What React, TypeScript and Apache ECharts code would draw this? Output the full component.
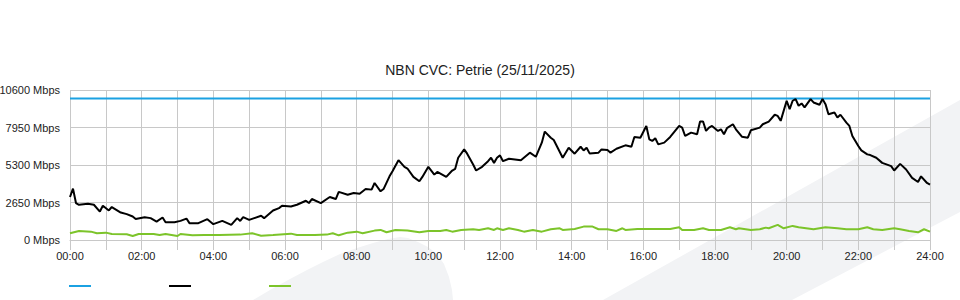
import React, { useEffect, useRef } from 'react';
import * as echarts from 'echarts';

const TITLE = 'NBN CVC: Petrie (25/11/2025)';
const Y_MAX = 10600;
const Y_STEP = 2650;
const X_MAX = 1440; // minutes in the day
const xTickLabels = ['00:00', '02:00', '04:00', '06:00', '08:00', '10:00', '12:00', '14:00', '16:00', '18:00', '20:00', '22:00', '24:00'];
const seriesNames = ['Capacity', 'Download', 'Upload'];

const capacityTimes = [0, 1440];
const capacityValues = [10000, 10000];

const downloadTimes = [
  0, 5, 10, 15, 30, 40, 50, 55, 65, 70, 85, 95, 105, 110, 125, 135, 145, 155, 160, 175,
  185, 195, 200, 215, 230, 240, 255, 270, 280, 285, 290, 300, 320, 325, 340, 350, 355, 370, 380, 395,
  400, 405, 420, 435, 445, 450, 465, 475, 485, 495, 505, 510, 520, 525, 535, 540, 550, 560, 565, 575,
  585, 590, 600, 610, 615, 630, 640, 645, 650, 660, 665, 675, 680, 690, 700, 705, 710, 715, 720, 725,
  735, 755, 770, 780, 790, 795, 805, 810, 825, 835, 845, 855, 860, 865, 870, 885, 890, 900, 905, 915,
  930, 940, 945, 955, 965, 970, 975, 980, 985, 995, 1005, 1020, 1025, 1030, 1040, 1050, 1055, 1060, 1065, 1070,
  1075, 1085, 1090, 1095, 1100, 1110, 1115, 1125, 1135, 1140, 1155, 1160, 1170, 1180, 1185, 1190, 1200, 1205, 1210, 1215,
  1220, 1225, 1230, 1240, 1245, 1255, 1260, 1265, 1270, 1280, 1285, 1290, 1300, 1305, 1310, 1320, 1325, 1335, 1340, 1350,
  1360, 1375, 1380, 1390, 1400, 1410, 1420, 1425, 1435, 1440,
];
const downloadValues = [
  3040, 3630, 2610, 2490, 2560, 2490, 2010, 2420, 2090, 2330, 1940, 1830, 1660, 1490, 1615, 1545, 1300, 1590, 1260, 1260,
  1350, 1515, 1190, 1190, 1470, 1120, 1350, 1070, 1545, 1350, 1615, 1420, 1710, 1545, 2085, 2255, 2420, 2370, 2490, 2775,
  2610, 2895, 2610, 3040, 2895, 3400, 3200, 3320, 3270, 3600, 3560, 4030, 3440, 3600, 4500, 4860, 5640, 5170, 5050, 4460,
  4150, 4460, 5170, 4620, 4810, 4460, 4910, 5030, 5810, 6400, 6100, 5335, 4910, 5170, 5570, 5810, 5450, 5810, 5980, 5570,
  5740, 5640, 6170, 5880, 6880, 7660, 7230, 7070, 5810, 6520, 6100, 6590, 6330, 6520, 6120, 6170, 6400, 6355, 6170, 6450,
  6690, 6590, 7280, 7230, 8060, 7110, 7000, 7190, 6760, 6880, 7280, 8060, 7940, 7350, 7590, 7470, 8370, 8370, 7710, 7940,
  8060, 7710, 7825, 7470, 7900, 8180, 7825, 7300, 7230, 7750, 7940, 8180, 8370, 8850, 8770, 8420, 9840, 9250, 9840, 9960,
  9485, 9650, 9370, 9960, 9720, 9560, 9960, 9600, 8890, 9010, 8660, 8850, 8300, 8060, 7350, 6640, 6330, 6050, 6000, 5810,
  5450, 5220, 4910, 5380, 4980, 4390, 4100, 4500, 4030, 3910,
];

const uploadTimes = [
  0, 15, 35, 45, 60, 70, 95, 105, 115, 140, 150, 160, 180, 185, 205, 225, 250, 285, 305, 320,
  340, 370, 380, 410, 430, 440, 450, 465, 480, 490, 510, 520, 530, 545, 565, 585, 600, 620, 630, 640,
  655, 675, 685, 700, 710, 715, 725, 735, 750, 760, 775, 790, 805, 820, 825, 845, 860, 875, 885, 900,
  915, 925, 930, 950, 980, 1005, 1020, 1025, 1045, 1060, 1070, 1090, 1105, 1115, 1120, 1140, 1155, 1165, 1170, 1185,
  1195, 1210, 1220, 1245, 1255, 1265, 1285, 1300, 1320, 1335, 1345, 1360, 1380, 1390, 1405, 1420, 1430, 1440,
];
const uploadValues = [
  474, 640, 590, 474, 520, 427, 405, 285, 427, 427, 355, 427, 285, 427, 330, 355, 355, 380, 474, 306,
  355, 450, 355, 355, 380, 474, 330, 520, 590, 474, 664, 711, 545, 711, 664, 545, 640, 640, 711, 590,
  711, 760, 711, 830, 711, 830, 711, 830, 711, 590, 711, 590, 760, 830, 711, 780, 946, 946, 760, 760,
  640, 830, 711, 780, 780, 780, 900, 711, 711, 830, 711, 711, 900, 760, 830, 711, 760, 875, 830, 1067,
  830, 996, 900, 760, 830, 900, 830, 760, 760, 900, 760, 711, 830, 760, 640, 545, 760, 590,
];

const GRID_COLOR = '#c8c8c8';
const FONT = "'Liberation Sans', Arial, Helvetica, sans-serif";

function pairs(times: number[], values: number[]) {
  return times.map((t, i) => [t, values[i]]);
}

export default function App() {
  const ref = useRef<HTMLDivElement>(null);

  useEffect(() => {
    if (!ref.current) return;
    const chart = echarts.init(ref.current, undefined, { renderer: 'svg' });
    const bg = '#f2f3f5';
    chart.setOption({
      animation: false,
      backgroundColor: '#ffffff',
      textStyle: { fontFamily: FONT },
      title: {
        text: TITLE,
        left: 'center',
        top: 58,
        textStyle: { fontSize: 14, fontWeight: 'normal', color: '#222', fontFamily: FONT },
      },
      graphic: [
        {
          type: 'polygon',
          z: -10,
          silent: true,
          x: 0,
          y: 0,
          shape: {
            points: [
              [253, 300], [270, 290], [290, 279], [307, 270], [323, 262], [340, 254], [357, 248], [373, 243],
              [388, 239], [400, 237], [408, 238], [418, 242], [428, 247], [437, 254], [444, 264], [449, 277],
              [452, 290], [453, 300],
            ],
          },
          style: { fill: bg },
        },
        {
          type: 'polygon',
          z: -10,
          silent: true,
          x: 0,
          y: 0,
          shape: {
            points: [[603, 300], [960, 100], [960, 212], [792, 300]],
          },
          style: { fill: bg },
        },
      ],
      legend: {
        data: seriesNames,
        left: 64,
        top: 280,
        icon: 'rect',
        itemWidth: 22,
        itemHeight: 2,
        itemGap: 78,
        selectedMode: false,
        formatter: () => '',
      },
      grid: { left: 70, right: 30, top: 90, bottom: 60, containLabel: false, outerBoundsMode: 'none' },
      xAxis: {
        type: 'value',
        min: 0,
        max: X_MAX,
        interval: 60,
        axisLine: { show: true, lineStyle: { color: GRID_COLOR } },
        axisTick: { show: true, length: 10, lineStyle: { color: GRID_COLOR } },
        splitLine: { show: true, lineStyle: { color: GRID_COLOR, width: 1 } },
        axisLabel: {
          margin: 10,
          fontSize: 11,
          color: '#222',
          fontFamily: FONT,
          showMinLabel: true,
          showMaxLabel: true,
          formatter: (v: number) => (v % 120 === 0 ? xTickLabels[v / 120] : ''),
        },
      },
      yAxis: {
        type: 'value',
        min: 0,
        max: Y_MAX,
        interval: Y_STEP,
        axisLine: { show: false },
        axisTick: { show: false },
        splitLine: { show: true, lineStyle: { color: GRID_COLOR, width: 1 } },
        axisLabel: {
          margin: 10,
          fontSize: 11,
          color: '#222',
          fontFamily: FONT,
          padding: [0, 0, 4, 0],
          formatter: (v: number) => `${v} Mbps`,
        },
      },
      series: [
        {
          name: seriesNames[0],
          type: 'line',
          data: pairs(capacityTimes, capacityValues),
          showSymbol: false,
          lineStyle: { color: '#1ba1e2', width: 2 },
          itemStyle: { color: '#1ba1e2' },
          z: 3,
        },
        {
          name: seriesNames[1],
          type: 'line',
          data: pairs(downloadTimes, downloadValues),
          showSymbol: false,
          lineStyle: { color: '#000000', width: 2 },
          itemStyle: { color: '#000000' },
          z: 4,
        },
        {
          name: seriesNames[2],
          type: 'line',
          data: pairs(uploadTimes, uploadValues),
          showSymbol: false,
          lineStyle: { color: '#7cc42a', width: 2 },
          itemStyle: { color: '#7cc42a' },
          z: 3,
        },
      ],
    });
    return () => chart.dispose();
  }, []);

  return (
    <div
      ref={ref}
      style={{ position: 'fixed', left: 0, top: 0, width: 960, height: 300, background: '#fff' }}
    />
  );
}
